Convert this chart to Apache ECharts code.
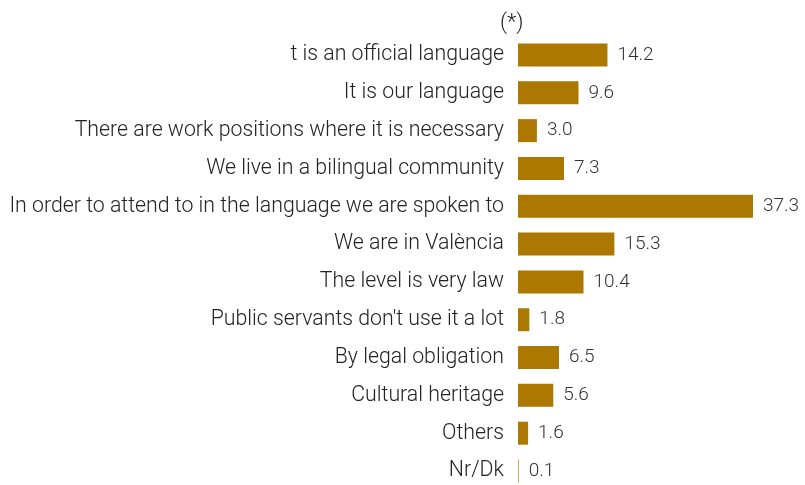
<!DOCTYPE html>
<html><head><meta charset="utf-8">
<script src="https://cdn.jsdelivr.net/npm/echarts@6/dist/echarts.min.js"></script>
<style>html,body{margin:0;padding:0;background:#fff}#c{width:805px;height:485px}</style>
</head><body><div id="c"></div>
<script>
const categories = [
  "t is an official language",
  "It is our language",
  "There are work positions where it is necessary",
  "We live in a bilingual community",
  "In order to attend to in the language we are spoken to",
  "We are in València",
  "The level is very law",
  "Public servants don't use it a lot",
  "By legal obligation",
  "Cultural heritage",
  "Others",
  "Nr/Dk"
];
const values = [14.2, 9.6, 3.0, 7.3, 37.3, 15.3, 10.4, 1.8, 6.5, 5.6, 1.6, 0.1];
const titleText = "(*)";

const chart = echarts.init(document.getElementById('c'), null, {renderer: 'canvas'});
chart.setOption({
  animation: false,
  title: {text: titleText, left: 495, top: 7, textStyle: {fontFamily: 'Roboto', fontWeight: 300, fontSize: 22, color: '#222'}},
  grid: {left: 518, top: 55, bottom: 14, width: 252, containLabel: false},
  xAxis: {type: 'value', min: 0, max: 40, show: false},
  yAxis: {type: 'category', data: categories, inverse: true, boundaryGap: false,
    axisLine: {show: false}, axisTick: {show: false}, splitLine: {show: false},
    axisLabel: {margin: 14, fontFamily: 'Roboto', fontWeight: 300, fontSize: 21.3, color: '#222'}},
  series: [{type: 'bar', data: values, barWidth: 23,
    itemStyle: {color: '#AD7800'},
    label: {show: true, position: 'right', distance: 10, formatter: p => p.value.toFixed(1),
      fontFamily: 'Roboto', fontWeight: 300, fontSize: 19, color: '#333'}}]
});
</script></body></html>
